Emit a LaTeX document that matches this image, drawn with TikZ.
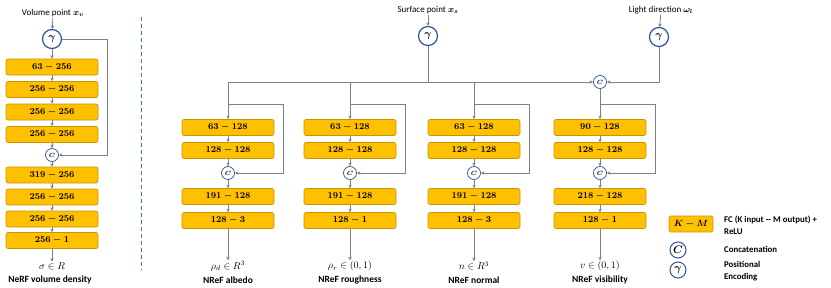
\documentclass[tikz,border=0pt]{standalone}
\usepackage{fontspec}
\usepackage{amsmath}
\newfontfamily\labfont{Carlito}
\usetikzlibrary{arrows.meta,calc}
\definecolor{fcfill}{HTML}{FFC000}
\definecolor{fcborder}{HTML}{C99400}
\definecolor{cblue}{HTML}{2F5597}
\definecolor{lgray}{HTML}{808080}
\definecolor{dcol}{HTML}{4472C4}
\tikzset{
 fc/.style={rectangle, rounded corners=2pt, draw=fcborder, fill=fcfill, line width=0.6pt,
   minimum width=92pt, minimum height=16pt, inner sep=0pt, font=\fontsize{8.8}{10}\selectfont\boldmath},
 cat/.style={circle, draw=cblue, fill=white, line width=0.7pt, minimum size=13pt, inner sep=0pt,
   font=\fontsize{6.5}{7}\selectfont\boldmath},
 pe/.style={circle, draw=cblue, fill=white, line width=1.2pt, minimum size=19pt, inner sep=0pt,
   font=\fontsize{10.5}{12}\selectfont\boldmath},
 conn/.style={draw=lgray, line width=0.8pt},
 arr/.style={conn, -{Stealth[length=3.5pt,width=3.5pt]}},
 lab/.style={font=\labfont\fontsize{9}{10}\selectfont, inner sep=0.5pt},
 blab/.style={font=\labfont\bfseries\fontsize{9.5}{11}\selectfont, inner sep=0pt},
 outm/.style={font=\fontsize{10}{11}\selectfont, inner sep=0.5pt},
 leg/.style={font=\labfont\bfseries\fontsize{8.8}{12}\selectfont, inner sep=0pt, anchor=west, align=left},
}
\begin{document}
\begin{tikzpicture}[x=1pt,y=-1pt]
\useasboundingbox (0,0) rectangle (831,287);

% ---------- left column: NeRF ----------
\node[lab] (vp) at (53,13) {Volume point $\boldsymbol{x_v}$};
\node[pe] (gv) at (52,39) {$\gamma$};
\node[fc] (v1) at (52,67) {$63-256$};
\node[fc] (v2) at (52,89.5) {$256-256$};
\node[fc] (v3) at (52,112) {$256-256$};
\node[fc] (v4) at (52,134.5) {$256-256$};
\node[cat] (vc) at (52,155) {$C$};
\node[fc] (v5) at (52,175) {$319-256$};
\node[fc] (v6) at (52,197) {$256-256$};
\node[fc] (v7) at (52,219) {$256-256$};
\node[fc] (v8) at (52,240.5) {$256-1$};
\node[outm] (vo) at (52,266) {$\sigma\in R$};
\node[blab] (vn) at (50,280) {NeRF volume density};
\coordinate (vr) at (107,39);
\draw[arr] (vp) -- (gv);
\draw[arr] (gv) -- (v1);
\draw[arr] (v1) -- (v2);
\draw[arr] (v2) -- (v3);
\draw[arr] (v3) -- (v4);
\draw[arr] (v4) -- (vc);
\draw[arr] (vc) -- (v5);
\draw[arr] (v5) -- (v6);
\draw[arr] (v6) -- (v7);
\draw[arr] (v7) -- (v8);
\draw[arr] (v8) -- (vo);
\draw[arr] (gv) -- (vr) |- (vc);

% divider
\coordinate (dt) at (141,17);
\coordinate (db) at (141,270);
\draw[dcol, line width=1pt, dash pattern=on 4pt off 3pt] (dt) -- (db);

% ---------- inputs & bus ----------
\node[lab] (sp) at (428,10) {Surface point $\boldsymbol{x_s}$};
\node[pe] (gs) at (428,36) {$\gamma$};
\node[lab] (ld) at (661,10) {Light direction $\boldsymbol{\omega_l}$};
\node[pe] (gl) at (659,37) {$\gamma$};
\node[cat] (busC) at (600,82) {$C$};
\coordinate (busL) at (228,82);
\coordinate (busS) at (428,82);
\coordinate (bus2) at (350,82);
\coordinate (bus3) at (474,82);
\draw[arr] (sp) -- (gs);
\draw[arr] (ld) -- (gl);
\draw[conn] (gs) -- (busS);
\draw[arr] (busL) -- (busC);
\draw[arr] (gl) |- (busC);

% ---------- four NReF columns ----------
\foreach \i/\cx/\ta/\td/\te/\out/\name in {
  1/228/{63-128}/{191-128}/{128-3}/{\rho_d\in R^3}/{NReF albedo},
  2/350/{63-128}/{191-128}/{128-1}/{\rho_r\in(0,1)}/{NReF roughness},
  3/474/{63-128}/{191-128}/{128-3}/{n\in R^3}/{NReF normal},
  4/600/{90-128}/{218-128}/{128-1}/{v\in(0,1)}/{NReF visibility}}{
  \node[fc] (c\i a) at (\cx,127.5) {$\ta$};
  \node[fc] (c\i b) at (\cx,150.5) {$128-128$};
  \node[cat] (c\i c) at (\cx,173) {$C$};
  \node[fc] (c\i d) at (\cx,196.5) {$\td$};
  \node[fc] (c\i e) at (\cx,220.5) {$\te$};
  \node[outm] (c\i o) at (\cx,266) {$\out$};
  \node[blab] (c\i n) at (\cx,280) {\name};
  \coordinate (c\i j) at (\cx,104);
  \coordinate (c\i r) at (\cx+55,104);
  \draw[arr] (c\i a) -- (c\i b);
  \draw[arr] (c\i b) -- (c\i c);
  \draw[arr] (c\i c) -- (c\i d);
  \draw[arr] (c\i d) -- (c\i e);
  \draw[arr] (c\i e) -- (c\i o);
  \draw[arr] (c\i j) -- (c\i r) |- (c\i c);
}
\draw[arr] (busL) -- (c1a);
\draw[arr] (bus2) -- (c2a);
\draw[arr] (bus3) -- (c3a);
\draw[arr] (busC) -- (c4a);

% ---------- legend ----------
\node[fc, minimum width=44pt] (lk) at (691,224) {$K-M$};
\node[leg] (lkt) at (724,225) {FC (K input -- M output) +\\ReLU};
\node[cat, minimum size=16pt, line width=1pt, font=\fontsize{10.5}{12}\selectfont\boldmath] (lc) at (678,250) {$C$};
\node[leg] (lct) at (724,249) {Concatenation};
\node[pe, minimum size=16pt, line width=1pt] (lg) at (678,270) {$\gamma$};
\node[leg] (lgt) at (724,271) {Positional\\Encoding};
\end{tikzpicture}
\end{document}
